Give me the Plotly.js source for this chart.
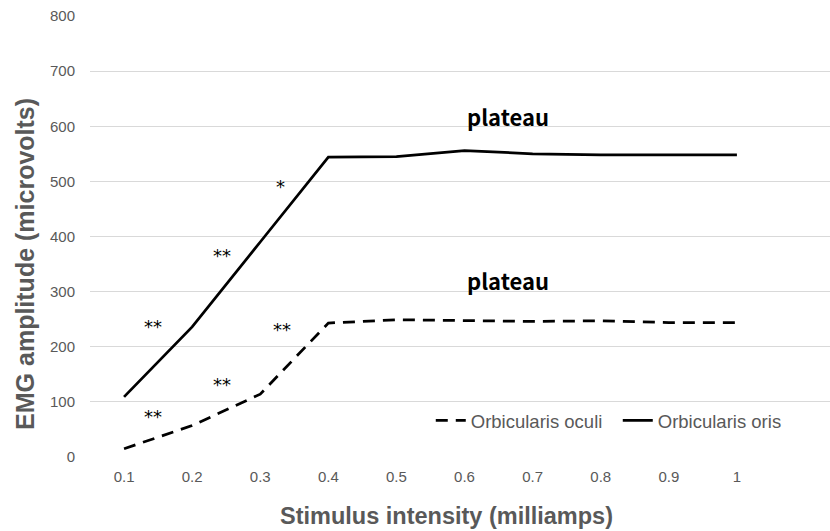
<!DOCTYPE html>
<html>
<head>
<meta charset="utf-8">
<script src="https://cdn.plot.ly/plotly-3.0.1.min.js"></script>
<style>html,body{margin:0;padding:0;background:#fff;}#chart{width:830px;height:531px;}</style>
</head>
<body>
<div id="chart"></div>
<script>
var intensity = [0.1, 0.2, 0.3, 0.4, 0.5, 0.6, 0.7, 0.8, 0.9, 1.0];
var tickLabels = ["0.1", "0.2", "0.3", "0.4", "0.5", "0.6", "0.7", "0.8", "0.9", "1"];
var oculi = [15, 57, 114, 243, 249, 247, 246, 247, 244, 244];
var oris = [109, 236, 390, 544, 545, 556, 550, 548, 548, 548];
var yTicks = [0, 100, 200, 300, 400, 500, 600, 700, 800];

var starText = ["*", "**", "**", "**", "**", "**"];
var starX = [0.330, 0.2435, 0.143, 0.143, 0.2435, 0.3325];
var starY = [490, 365, 237, 73, 132, 231];
var plateauText = ["plateau", "plateau"];
var plateauX = [0.664, 0.664];
var plateauY = [619, 322];

var sans = "Liberation Sans, Arial, sans-serif";
var grey = "#595959";

var traces = [
  {x: intensity, y: oculi, name: "Orbicularis oculi", mode: "lines",
   line: {color: "#000000", width: 2.75, dash: "12px,8px"}},
  {x: intensity, y: oris, name: "Orbicularis oris", mode: "lines",
   line: {color: "#000000", width: 2.75}}
];

var annotations = [];
for (var i = 0; i < starText.length; i++) {
  annotations.push({x: starX[i], y: starY[i], xref: "x", yref: "y", text: starText[i],
    showarrow: false, font: {family: "DejaVu Sans, sans-serif", size: 18, color: "#000"}});
}
for (var j = 0; j < plateauText.length; j++) {
  annotations.push({x: plateauX[j], y: plateauY[j], xref: "x", yref: "y", text: "<b>" + plateauText[j] + "</b>",
    showarrow: false, font: {family: "Noto Sans CJK KR, Noto Sans, sans-serif", size: 22, color: "#000"}});
}
annotations.push({x: 0.4824, y: -0.134, xref: "paper", yref: "paper", xanchor: "center", yanchor: "middle",
  text: "<b>Stimulus intensity (milliamps)</b>", showarrow: false,
  font: {family: sans, size: 23.5, color: grey}});
annotations.push({x: -0.088, y: 0.4376, xref: "paper", yref: "paper", xanchor: "center", yanchor: "middle",
  textangle: -90, text: "<b>EMG amplitude (microvolts)</b>", showarrow: false,
  font: {family: sans, size: 25, color: grey}});

var layout = {
  width: 830, height: 531,
  margin: {l: 90, r: 0, t: 16, b: 74},
  paper_bgcolor: "#ffffff", plot_bgcolor: "#ffffff",
  showlegend: true,
  legend: {orientation: "h", x: 0.4605, y: 0.082, xanchor: "left", yanchor: "middle",
    font: {family: sans, size: 18.5, color: grey},
    bgcolor: "rgba(255,255,255,0)", itemwidth: 30, tracegroupgap: 0,
    entrywidth: 142, entrywidthmode: "pixels"},
  xaxis: {range: [0.05, 1.1367], tickvals: intensity, ticktext: tickLabels,
    showgrid: false, zeroline: false, showline: false, ticks: "", ticklabelstandoff: 9,
    tickfont: {family: sans, size: 15, color: grey}},
  yaxis: {range: [0, 800], tickvals: yTicks, showgrid: true, gridcolor: "#d9d9d9", gridwidth: 1,
    zeroline: false, showline: false, ticks: "", ticklabelstandoff: 14,
    tickfont: {family: sans, size: 15, color: grey}},
  annotations: annotations
};

Plotly.newPlot("chart", traces, layout, {displayModeBar: false, staticPlot: true});
</script>
</body>
</html>
